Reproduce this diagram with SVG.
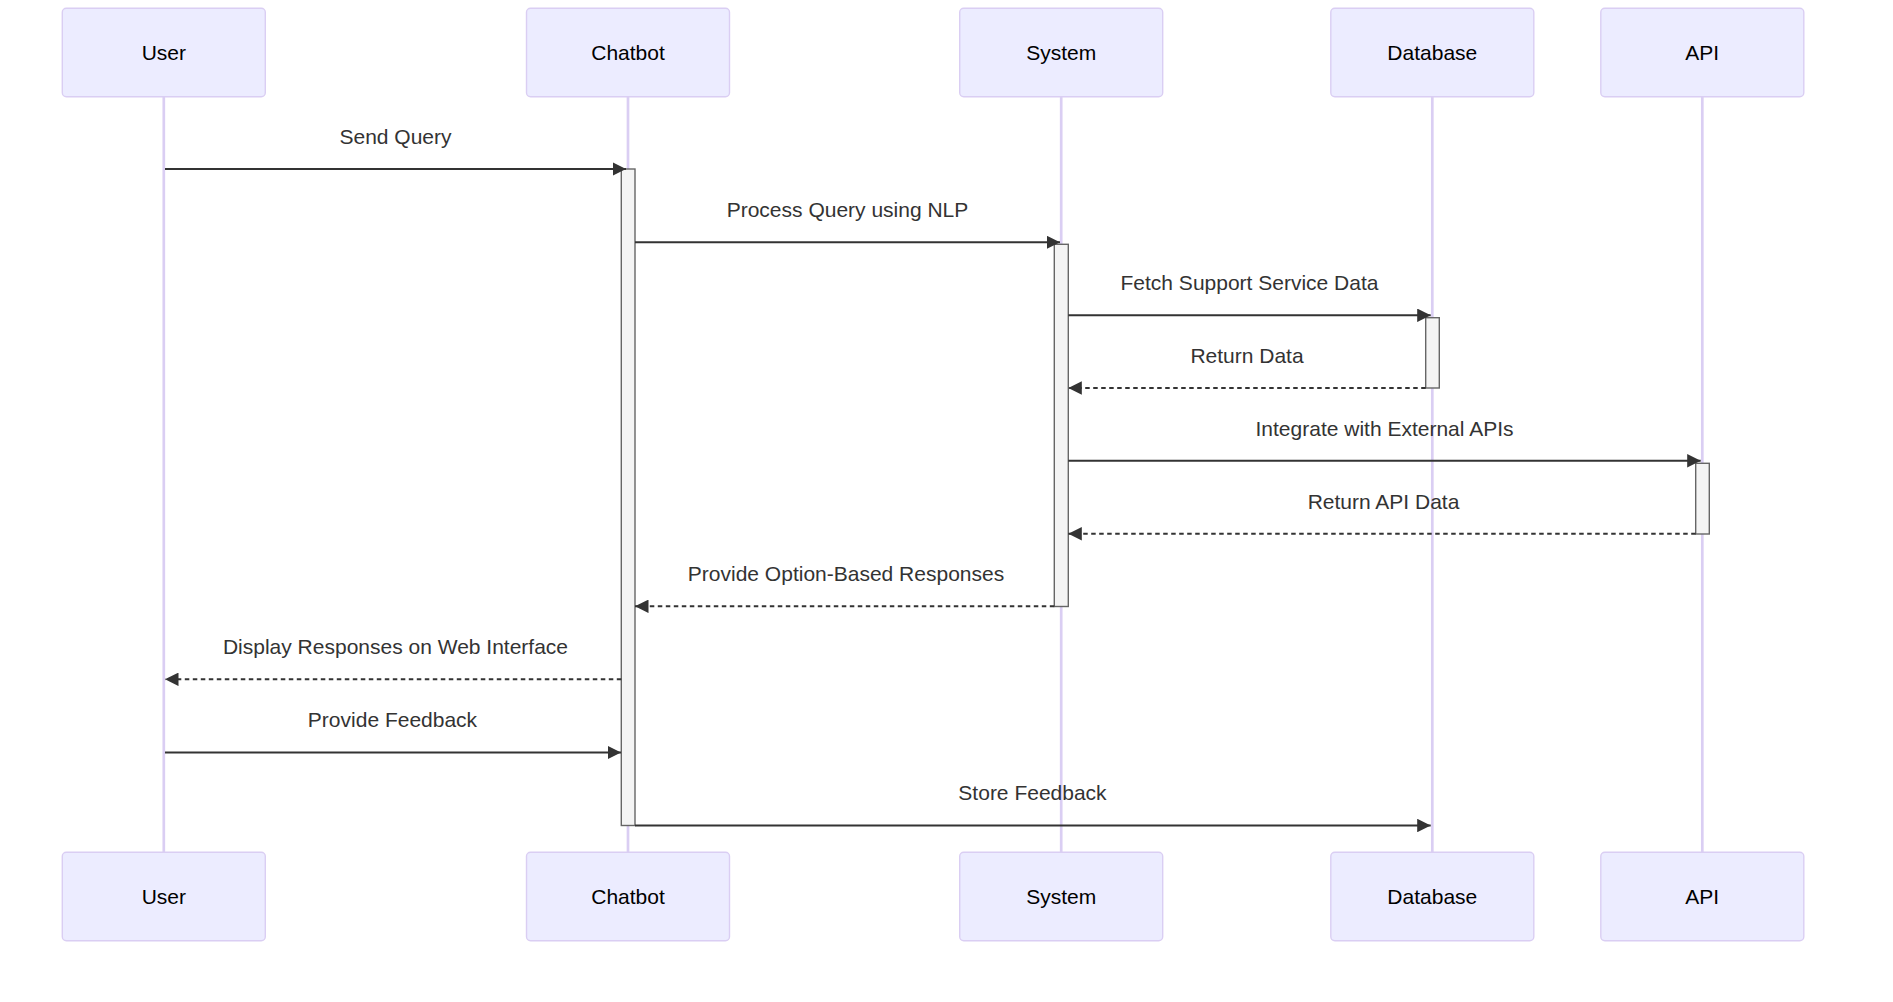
<svg xmlns="http://www.w3.org/2000/svg" width="1893" height="1002" viewBox="0 0 1893 1002">
<style>
.actor{fill:#ECECFF;stroke:#DACEF3;stroke-width:1.4}
.actor-text{font-family:"Liberation Sans",Arial,sans-serif;font-size:21px;fill:#000;text-anchor:middle;dominant-baseline:central}
.lifeline{stroke:#DACEF3;stroke-width:2.7}
.activation{fill:#F4F4F4;stroke:#666;stroke-width:1.4}
.msg{stroke:#333;stroke-width:2;fill:none}
.dashed{stroke-dasharray:4.5,3.5}
.msg-text{font-family:"Liberation Sans",Arial,sans-serif;font-size:21px;fill:#333;text-anchor:middle}
</style>
<defs>
<marker id="arrowhead" viewBox="0 0 10 10" refX="10" refY="5" markerWidth="13.5" markerHeight="13.5" markerUnits="userSpaceOnUse" orient="auto">
<path d="M0,0 L10,5 L0,10 z" fill="#333"/>
</marker>
</defs>
<rect width="1893" height="1002" fill="#fff"/>
<g id="lifelines">
<line class="lifeline" x1="163.8" y1="96.7" x2="163.8" y2="852.3"/>
<line class="lifeline" x1="628" y1="96.7" x2="628" y2="852.3"/>
<line class="lifeline" x1="1061.2" y1="96.7" x2="1061.2" y2="852.3"/>
<line class="lifeline" x1="1432.3" y1="96.7" x2="1432.3" y2="852.3"/>
<line class="lifeline" x1="1702.3" y1="96.7" x2="1702.3" y2="852.3"/>
</g>
<g id="actor-user">
<rect class="actor" x="62.3" y="8.3" width="203" height="88.4" rx="4"/>
<text class="actor-text" x="163.8" y="52.5">User</text>
<rect class="actor" x="62.3" y="852.3" width="203" height="88.4" rx="4"/>
<text class="actor-text" x="163.8" y="896.5">User</text>
</g>
<g id="actor-chatbot">
<rect class="actor" x="526.5" y="8.3" width="203" height="88.4" rx="4"/>
<text class="actor-text" x="628" y="52.5">Chatbot</text>
<rect class="actor" x="526.5" y="852.3" width="203" height="88.4" rx="4"/>
<text class="actor-text" x="628" y="896.5">Chatbot</text>
</g>
<g id="actor-system">
<rect class="actor" x="959.7" y="8.3" width="203" height="88.4" rx="4"/>
<text class="actor-text" x="1061.2" y="52.5">System</text>
<rect class="actor" x="959.7" y="852.3" width="203" height="88.4" rx="4"/>
<text class="actor-text" x="1061.2" y="896.5">System</text>
</g>
<g id="actor-database">
<rect class="actor" x="1330.8" y="8.3" width="203" height="88.4" rx="4"/>
<text class="actor-text" x="1432.3" y="52.5">Database</text>
<rect class="actor" x="1330.8" y="852.3" width="203" height="88.4" rx="4"/>
<text class="actor-text" x="1432.3" y="896.5">Database</text>
</g>
<g id="actor-api">
<rect class="actor" x="1600.8" y="8.3" width="203" height="88.4" rx="4"/>
<text class="actor-text" x="1702.3" y="52.5">API</text>
<rect class="actor" x="1600.8" y="852.3" width="203" height="88.4" rx="4"/>
<text class="actor-text" x="1702.3" y="896.5">API</text>
</g>
<g id="activations">
<rect class="activation" x="621.3" y="169" width="13.7" height="656.5"/>
<rect class="activation" x="1054.3" y="244.3" width="14" height="362.2"/>
<rect class="activation" x="1425.7" y="317.7" width="13.6" height="70.3"/>
<rect class="activation" x="1695.7" y="463.3" width="13.6" height="70.7"/>
</g>
<g id="connectors">
<line class="msg" x1="165" y1="169" x2="626" y2="169" marker-end="url(#arrowhead)"/>
<text class="msg-text" x="395.5" y="144">Send Query</text>
<line class="msg" x1="635" y1="242.3" x2="1060" y2="242.3" marker-end="url(#arrowhead)"/>
<text class="msg-text" x="847.5" y="217">Process Query using NLP</text>
<line class="msg" x1="1068.3" y1="315.3" x2="1430.7" y2="315.3" marker-end="url(#arrowhead)"/>
<text class="msg-text" x="1249.5" y="290">Fetch Support Service Data</text>
<line class="msg dashed" x1="1425.7" y1="388" x2="1068.3" y2="388" marker-end="url(#arrowhead)"/>
<text class="msg-text" x="1247" y="363">Return Data</text>
<line class="msg" x1="1068.3" y1="460.8" x2="1700.7" y2="460.8" marker-end="url(#arrowhead)"/>
<text class="msg-text" x="1384.5" y="435.5">Integrate with External APIs</text>
<line class="msg dashed" x1="1695.7" y1="533.8" x2="1068.3" y2="533.8" marker-end="url(#arrowhead)"/>
<text class="msg-text" x="1383.5" y="508.5">Return API Data</text>
<line class="msg dashed" x1="1054.3" y1="606.3" x2="635" y2="606.3" marker-end="url(#arrowhead)"/>
<text class="msg-text" x="846" y="581">Provide Option-Based Responses</text>
<line class="msg dashed" x1="621.3" y1="679.3" x2="165" y2="679.3" marker-end="url(#arrowhead)"/>
<text class="msg-text" x="395.5" y="654">Display Responses on Web Interface</text>
<line class="msg" x1="165" y1="752.5" x2="621" y2="752.5" marker-end="url(#arrowhead)"/>
<text class="msg-text" x="392.5" y="727">Provide Feedback</text>
<line class="msg" x1="635" y1="825.5" x2="1430.7" y2="825.5" marker-end="url(#arrowhead)"/>
<text class="msg-text" x="1032.5" y="800">Store Feedback</text>
</g>
</svg>
